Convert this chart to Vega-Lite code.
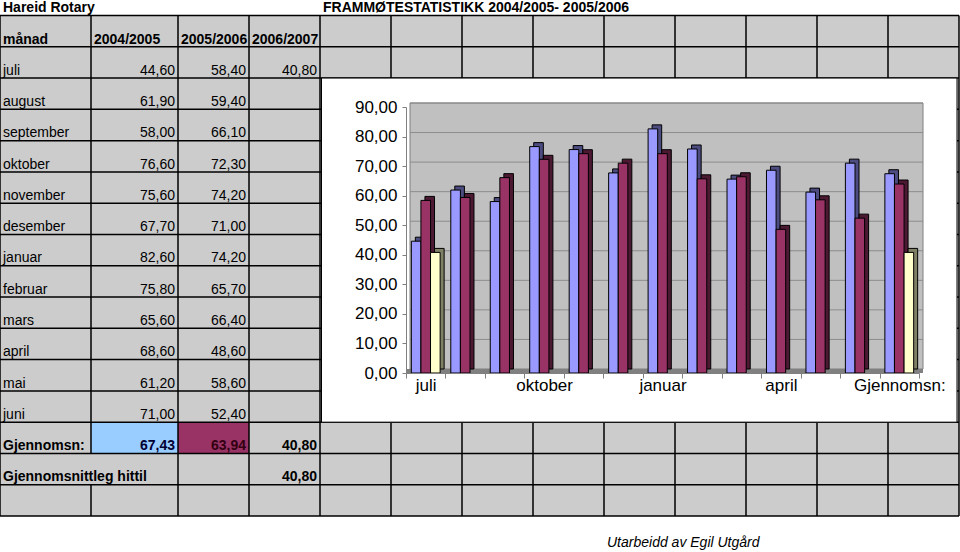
{
  "$schema": "https://vega.github.io/schema/vega-lite/v6.json",
  "width": 513,
  "height": 266,
  "autosize": {"type": "none"},
  "padding": {"left": 406, "top": 107, "right": 41, "bottom": 179},
  "background": "#ffffff",
  "config": {
    "view": {"stroke": null},
    "font": "Liberation Sans",
    "locale": {"number": {"decimal": ",", "thousands": ".", "grouping": [3], "currency": ["", " kr"]}},
    "text": {"font": "Liberation Sans", "fontSize": 14, "color": "#000000", "baseline": "alphabetic"}
  },
  "datasets": {
    "tbl": [
      {"rad": 1, "manad": "juli", "y0405": 44.60, "y0506": 58.40, "y0607": 40.80},
      {"rad": 2, "manad": "august", "y0405": 61.90, "y0506": 59.40},
      {"rad": 3, "manad": "september", "y0405": 58.00, "y0506": 66.10},
      {"rad": 4, "manad": "oktober", "y0405": 76.60, "y0506": 72.30},
      {"rad": 5, "manad": "november", "y0405": 75.60, "y0506": 74.20},
      {"rad": 6, "manad": "desember", "y0405": 67.70, "y0506": 71.00},
      {"rad": 7, "manad": "januar", "y0405": 82.60, "y0506": 74.20},
      {"rad": 8, "manad": "februar", "y0405": 75.80, "y0506": 65.70},
      {"rad": 9, "manad": "mars", "y0405": 65.60, "y0506": 66.40},
      {"rad": 10, "manad": "april", "y0405": 68.60, "y0506": 48.60},
      {"rad": 11, "manad": "mai", "y0405": 61.20, "y0506": 58.60},
      {"rad": 12, "manad": "juni", "y0405": 71.00, "y0506": 52.40},
      {"rad": 13, "manad": "Gjennomsn:", "y0405": 67.43, "y0506": 63.94, "y0607": 40.80},
      {"rad": 14, "manad": "Gjennomsnittleg hittil", "y0607": 40.80}
    ],
    "hdr": [
      {"col": 0, "txt": "månad"},
      {"col": 1, "txt": "2004/2005"},
      {"col": 2, "txt": "2005/2006"},
      {"col": 3, "txt": "2006/2007"}
    ],
    "topp": [
      {"col": 0, "txt": "Hareid Rotary"},
      {"col": 4, "txt": "FRAMMØTESTATISTIKK 2004/2005- 2005/2006"}
    ],
    "hl": [
      {"r": 0}, {"r": 1}, {"r": 2}, {"r": 3}, {"r": 4}, {"r": 5}, {"r": 6}, {"r": 7}, {"r": 8},
      {"r": 9}, {"r": 10}, {"r": 11}, {"r": 12}, {"r": 13}, {"r": 14}, {"r": 15}, {"r": 16}
    ],
    "vl": [
      {"c": 0, "r1": 0, "r2": 16},
      {"c": 1, "r1": 0, "r2": 14},
      {"c": 1, "r1": 15, "r2": 16},
      {"c": 2, "r1": 0, "r2": 16},
      {"c": 3, "r1": 0, "r2": 16},
      {"c": 4, "r1": 0, "r2": 16},
      {"c": 5, "r1": 0, "r2": 16},
      {"c": 6, "r1": 0, "r2": 16},
      {"c": 7, "r1": 0, "r2": 16},
      {"c": 8, "r1": 0, "r2": 16},
      {"c": 9, "r1": 0, "r2": 16},
      {"c": 10, "r1": 0, "r2": 16},
      {"c": 11, "r1": 0, "r2": 16},
      {"c": 12, "r1": 0, "r2": 16},
      {"c": 13, "r1": 0, "r2": 16}
    ],
    "gl": [
      {"v": 10}, {"v": 20}, {"v": 30}, {"v": 40}, {"v": 50}, {"v": 60}, {"v": 70}, {"v": 80}, {"v": 90}
    ]
  },
  "layer": [
    {
      "layer": [
        {
          "data": {"values": [{}]},
          "mark": {"type": "rect", "fill": "#cccccc"},
          "encoding": {
            "x": {"datum": 0, "type": "quantitative", "axis": null, "scale": {"domain": [0, 1, 2, 3, 4, 13], "range": [-406, -315, -228, -157, -86, 553], "nice": false, "zero": false}},
            "x2": {"datum": 13},
            "y": {"datum": 0, "type": "quantitative", "axis": null, "scale": {"domain": [0, 16], "range": [-91.5, 409], "nice": false, "zero": false}},
            "y2": {"datum": 16}
          }
        },
        {
          "data": {"values": [{}]},
          "mark": {"type": "rect", "fill": "#99ccff"},
          "encoding": {
            "x": {"datum": 1, "type": "quantitative", "axis": null},
            "x2": {"datum": 2},
            "y": {"datum": 13, "type": "quantitative", "axis": null},
            "y2": {"datum": 14}
          }
        },
        {
          "data": {"values": [{}]},
          "mark": {"type": "rect", "fill": "#993366"},
          "encoding": {
            "x": {"datum": 2, "type": "quantitative", "axis": null},
            "x2": {"datum": 3},
            "y": {"datum": 13, "type": "quantitative", "axis": null},
            "y2": {"datum": 14}
          }
        },
        {
          "data": {"name": "hl"},
          "mark": {"type": "rule", "color": "#000000", "strokeWidth": 1.5},
          "encoding": {
            "y": {"field": "r", "type": "quantitative", "axis": null},
            "x": {"datum": 0, "type": "quantitative", "axis": null},
            "x2": {"datum": 13}
          }
        },
        {
          "data": {"name": "vl"},
          "mark": {"type": "rule", "color": "#000000", "strokeWidth": 1.5},
          "encoding": {
            "x": {"field": "c", "type": "quantitative", "axis": null},
            "y": {"field": "r1", "type": "quantitative", "axis": null},
            "y2": {"field": "r2"}
          }
        },
        {
          "data": {"values": [{}]},
          "mark": {"type": "rect", "fill": "#ffffff", "stroke": "#000000", "strokeWidth": 1, "xOffset": 1.5, "x2Offset": -2},
          "encoding": {
            "x": {"datum": 4, "type": "quantitative", "axis": null},
            "x2": {"datum": 13},
            "y": {"datum": 2, "type": "quantitative", "axis": null},
            "y2": {"datum": 13}
          }
        },
        {
          "data": {"name": "topp"},
          "mark": {"type": "text", "align": "left", "dx": 3, "dy": -4, "fontWeight": "bold"},
          "encoding": {
            "x": {"field": "col", "type": "quantitative", "axis": null},
            "y": {"datum": 0, "type": "quantitative", "axis": null},
            "text": {"field": "txt", "type": "nominal"}
          }
        },
        {
          "data": {"name": "hdr"},
          "mark": {"type": "text", "align": "left", "dx": 3, "dy": 28, "fontWeight": "bold"},
          "encoding": {
            "x": {"field": "col", "type": "quantitative", "axis": null},
            "y": {"datum": 0, "type": "quantitative", "axis": null},
            "text": {"field": "txt", "type": "nominal"}
          }
        },
        {
          "data": {"name": "tbl"},
          "transform": [{"filter": "datum.rad <= 12"}],
          "mark": {"type": "text", "align": "left", "dx": 3, "dy": 28},
          "encoding": {
            "x": {"datum": 0, "type": "quantitative", "axis": null},
            "y": {"field": "rad", "type": "quantitative", "axis": null},
            "text": {"field": "manad", "type": "nominal"}
          }
        },
        {
          "data": {"name": "tbl"},
          "transform": [{"filter": "datum.rad >= 13"}],
          "mark": {"type": "text", "align": "left", "dx": 3, "dy": 28, "fontWeight": "bold"},
          "encoding": {
            "x": {"datum": 0, "type": "quantitative", "axis": null},
            "y": {"field": "rad", "type": "quantitative", "axis": null},
            "text": {"field": "manad", "type": "nominal"}
          }
        },
        {
          "data": {"name": "tbl"},
          "transform": [{"filter": "datum.rad <= 12 && isValid(datum.y0405)"}],
          "mark": {"type": "text", "align": "right", "dx": -3, "dy": 28},
          "encoding": {
            "x": {"datum": 2, "type": "quantitative", "axis": null},
            "y": {"field": "rad", "type": "quantitative", "axis": null},
            "text": {"field": "y0405", "type": "quantitative", "format": ".2f"}
          }
        },
        {
          "data": {"name": "tbl"},
          "transform": [{"filter": "datum.rad <= 12 && isValid(datum.y0506)"}],
          "mark": {"type": "text", "align": "right", "dx": -3, "dy": 28},
          "encoding": {
            "x": {"datum": 3, "type": "quantitative", "axis": null},
            "y": {"field": "rad", "type": "quantitative", "axis": null},
            "text": {"field": "y0506", "type": "quantitative", "format": ".2f"}
          }
        },
        {
          "data": {"name": "tbl"},
          "transform": [{"filter": "datum.rad <= 12 && isValid(datum.y0607)"}],
          "mark": {"type": "text", "align": "right", "dx": -3, "dy": 28},
          "encoding": {
            "x": {"datum": 4, "type": "quantitative", "axis": null},
            "y": {"field": "rad", "type": "quantitative", "axis": null},
            "text": {"field": "y0607", "type": "quantitative", "format": ".2f"}
          }
        },
        {
          "data": {"name": "tbl"},
          "transform": [{"filter": "datum.rad >= 13 && isValid(datum.y0405)"}],
          "mark": {"type": "text", "align": "right", "dx": -3, "dy": 28, "fontWeight": "bold", "color": "#000033"},
          "encoding": {
            "x": {"datum": 2, "type": "quantitative", "axis": null},
            "y": {"field": "rad", "type": "quantitative", "axis": null},
            "text": {"field": "y0405", "type": "quantitative", "format": ".2f"}
          }
        },
        {
          "data": {"name": "tbl"},
          "transform": [{"filter": "datum.rad >= 13 && isValid(datum.y0506)"}],
          "mark": {"type": "text", "align": "right", "dx": -3, "dy": 28, "fontWeight": "bold", "color": "#330011"},
          "encoding": {
            "x": {"datum": 3, "type": "quantitative", "axis": null},
            "y": {"field": "rad", "type": "quantitative", "axis": null},
            "text": {"field": "y0506", "type": "quantitative", "format": ".2f"}
          }
        },
        {
          "data": {"name": "tbl"},
          "transform": [{"filter": "datum.rad >= 13 && isValid(datum.y0607)"}],
          "mark": {"type": "text", "align": "right", "dx": -3, "dy": 28, "fontWeight": "bold"},
          "encoding": {
            "x": {"datum": 4, "type": "quantitative", "axis": null},
            "y": {"field": "rad", "type": "quantitative", "axis": null},
            "text": {"field": "y0607", "type": "quantitative", "format": ".2f"}
          }
        },
        {
          "data": {"values": [{}]},
          "mark": {"type": "text", "align": "left", "dx": 3, "dy": 31, "fontStyle": "italic", "text": "Utarbeidd av Egil Utgård"},
          "encoding": {
            "x": {"datum": 8, "type": "quantitative", "axis": null},
            "y": {"datum": 16, "type": "quantitative", "axis": null}
          }
        }
      ]
    },
    {
      "layer": [
        {
          "data": {"values": [{}]},
          "mark": {"type": "rect", "fill": "#c0c0c0", "stroke": "#808080", "strokeWidth": 1, "xOffset": 4, "x2Offset": 4, "yOffset": -4, "y2Offset": -4},
          "encoding": {
            "x": {"datum": "juli", "type": "nominal", "bandPosition": 0, "title": null, "scale": {"domain": ["juli", "august", "september", "oktober", "november", "desember", "januar", "februar", "mars", "april", "mai", "juni", "Gjennomsn:"], "paddingInner": 0, "paddingOuter": 0}},
            "x2": {"datum": "Gjennomsn:", "bandPosition": 1},
            "y": {"datum": 90, "type": "quantitative", "title": null, "scale": {"domain": [0, 90], "nice": false, "zero": true}},
            "y2": {"datum": 0}
          }
        },
        {
          "data": {"name": "gl"},
          "mark": {"type": "rule", "color": "#8c8c8c", "strokeWidth": 1, "xOffset": 4, "x2Offset": 4, "yOffset": -4},
          "encoding": {
            "x": {"datum": "juli", "type": "nominal", "bandPosition": 0, "title": null},
            "x2": {"datum": "Gjennomsn:", "bandPosition": 1},
            "y": {"field": "v", "type": "quantitative", "title": null}
          }
        },
        {
          "data": {"values": [{}]},
          "mark": {"type": "rect", "fill": "#808080", "x2Offset": 4, "y2Offset": -4},
          "encoding": {
            "x": {"datum": "juli", "type": "nominal", "bandPosition": 0, "title": null},
            "x2": {"datum": "Gjennomsn:", "bandPosition": 1},
            "y": {"datum": 0, "type": "quantitative", "title": null},
            "y2": {"datum": 0}
          }
        },
        {
          "data": {"name": "tbl"},
          "transform": [
            {"filter": "datum.rad <= 13"},
            {"fold": ["y0405", "y0506", "y0607"], "as": ["serie", "verdi"]},
            {"filter": "isValid(datum.verdi)"}
          ],
          "mark": {"type": "bar", "yOffset": -4, "y2Offset": -4, "stroke": "#000000", "strokeWidth": 1},
          "encoding": {
            "x": {"field": "manad", "type": "nominal", "title": null},
            "xOffset": {"field": "serie", "type": "nominal", "scale": {"domain": ["y0405", "y0506", "y0607"], "range": [4, 43.46], "paddingInner": 0, "paddingOuter": 0.555}},
            "y": {"field": "verdi", "type": "quantitative", "title": null},
            "fill": {"field": "serie", "type": "nominal", "legend": null, "scale": {"domain": ["y0405", "y0506", "y0607"], "range": ["#4c4c80", "#4c1933", "#808066"]}}
          }
        },
        {
          "data": {"name": "tbl"},
          "transform": [
            {"filter": "datum.rad <= 13"},
            {"fold": ["y0405", "y0506", "y0607"], "as": ["serie", "verdi"]},
            {"filter": "isValid(datum.verdi)"}
          ],
          "mark": {"type": "bar", "stroke": "#000000", "strokeWidth": 1},
          "encoding": {
            "x": {"field": "manad", "type": "nominal", "title": null, "axis": {"orient": "bottom", "zindex": 1, "labelAngle": 0, "labelAlign": "center", "labelFlush": false, "labelFontSize": 17, "labelColor": "#000000", "labelFont": "Liberation Sans", "tickBand": "extent", "tickSize": 5, "tickColor": "#808080", "domainColor": "#808080", "labelPadding": 7, "labelOverlap": false, "grid": false, "labelExpr": "indexof(['juli','oktober','januar','april','Gjennomsn:'], datum.value) >= 0 ? datum.label : ''"}},
            "xOffset": {"field": "serie", "type": "nominal", "scale": {"domain": ["y0405", "y0506", "y0607"], "range": [0, 39.46], "paddingInner": 0, "paddingOuter": 0.555}},
            "y": {"field": "verdi", "type": "quantitative", "title": null, "axis": {"orient": "left", "zindex": 1, "values": [0, 10, 20, 30, 40, 50, 60, 70, 80, 90], "tickCount": 10, "format": ".2f", "labelOverlap": false, "labelFlush": false, "labelFontSize": 17, "labelColor": "#000000", "labelFont": "Liberation Sans", "tickSize": 4, "tickColor": "#808080", "domainColor": "#808080", "labelPadding": 5, "grid": false}},
            "color": {"field": "serie", "type": "nominal", "legend": null, "scale": {"domain": ["y0405", "y0506", "y0607"], "range": ["#9999ff", "#993366", "#ffffcc"]}}
          }
        }
      ],
      "resolve": {"scale": {"xOffset": "independent"}}
    }
  ],
  "resolve": {
    "scale": {"x": "independent", "y": "independent"},
    "axis": {"x": "independent", "y": "independent"}
  }
}
